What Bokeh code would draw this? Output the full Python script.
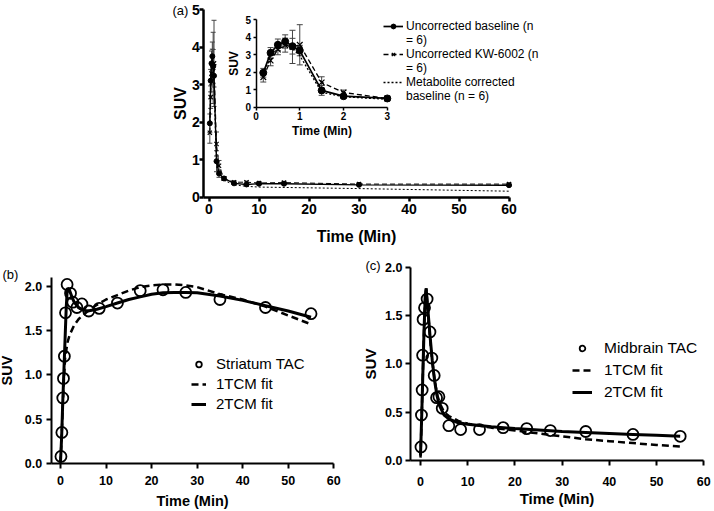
from bokeh.plotting import figure
from bokeh.models import (Range1d, LinearAxis, FixedTicker, Whisker, TeeHead, ColumnDataSource,
                          Legend, LegendItem, Label, NumeralTickFormatter)
from bokeh.embed import file_html
from bokeh.resources import INLINE

FONT = "Liberation Sans"

# ---------------- data: panel (a) ----------------
a_time = [1/6, 1/3, 0.5, 2/3, 5/6, 1.0, 1.5, 2.0, 3.0, 5.0, 7.5, 10.0, 15.0, 30.0, 60.0]
a_base = [1.97, 3.11, 3.57, 3.76, 3.49, 3.24, 0.96, 0.63, 0.50, 0.37, 0.34, 0.36, 0.36, 0.33, 0.32]
a_base_err = [0.25, 0.30, 0.33, 0.38, 0.45, 0.30, 0.28, 0.10, 0.05, 0.03, 0.03, 0.03, 0.03, 0.02, 0.02]
a_kw = [1.72, 2.67, 3.30, 3.55, 3.45, 3.57, 1.42, 0.84, 0.50, 0.40, 0.40, 0.38, 0.39, 0.35, 0.35]
a_kw_err = [0.28, 0.30, 0.30, 0.40, 0.95, 1.15, 0.32, 0.14, 0.05, 0.03, 0.03, 0.03, 0.03, 0.02, 0.02]
a_met = [1.90, 2.95, 3.45, 3.60, 3.35, 2.95, 0.85, 0.60, 0.45, 0.33, 0.29, 0.27, 0.26, 0.23, 0.16]
inset_n = 9  # points with time <= 3 min shown in the inset

# legend labels, one entry per printed line (first line carries the symbol)
a_labels = [["Uncorrected baseline (n", "= 6)"],
            ["Uncorrected KW-6002 (n", "= 6)"],
            ["Metabolite corrected", "baseline (n = 6)"]]

# ---------------- data: panel (b) striatum ----------------
b_time = [0.1, 0.3, 0.5, 0.65, 0.85, 1.1, 1.45, 2.2, 2.7, 3.6, 4.7, 6.2, 8.5, 12.5, 17.5, 22.5, 27.5, 35, 45, 55]
b_suv = [0.08, 0.35, 0.74, 0.96, 1.21, 1.70, 2.02, 1.92, 1.82, 1.76, 1.80, 1.72, 1.75, 1.81, 1.95, 1.96, 1.93, 1.85, 1.76, 1.69]
b_fit1_t = [0, 0.25, 0.5, 0.75, 1.0, 1.5, 2, 3, 4, 6, 8, 10, 12.5, 15, 17.5, 20, 22.5, 25, 27.5, 30, 35, 40, 45, 50, 55]
b_fit1 = [0.0, 0.3, 0.65, 0.95, 1.18, 1.36, 1.45, 1.56, 1.63, 1.72, 1.79, 1.85, 1.90, 1.95, 1.99, 2.01, 2.02, 2.02, 2.01, 1.99, 1.91, 1.85, 1.77, 1.67, 1.57]
b_fit2_t = [0, 0.25, 0.5, 0.75, 1.0, 1.25, 1.5, 2, 2.5, 3, 4, 5, 6, 8, 10, 12.5, 15, 17.5, 20, 22.5, 25, 27.5, 30, 35, 40, 45, 50, 55]
b_fit2 = [0.02, 0.30, 0.70, 1.05, 1.40, 1.75, 1.98, 1.95, 1.88, 1.82, 1.76, 1.73, 1.72, 1.74, 1.77, 1.81, 1.85, 1.88, 1.91, 1.925, 1.93, 1.93, 1.925, 1.89, 1.84, 1.78, 1.72, 1.65]
b_labels = ["Striatum TAC", "1TCM fit", "2TCM fit"]

# ---------------- data: panel (c) midbrain ----------------
c_time = [0.1, 0.2, 0.35, 0.45, 0.55, 0.85, 1.4, 2.0, 2.4, 2.9, 3.4, 3.9, 4.6, 6.0, 8.5, 12.5, 17.5, 22.5, 27.5, 35, 45, 55]
c_suv = [0.14, 0.47, 0.73, 1.09, 1.46, 1.58, 1.67, 1.33, 1.06, 0.88, 0.65, 0.66, 0.54, 0.36, 0.32, 0.32, 0.34, 0.33, 0.31, 0.30, 0.27, 0.25]
c_fit_t = [0, 0.25, 0.5, 0.75, 1.0, 1.2, 1.5, 2, 2.5, 3, 3.5, 4, 5, 6, 8, 10, 15, 20, 25, 30, 35, 40, 45, 50, 55]
c_fit1 = [0.03, 0.45, 0.9, 1.35, 1.70, 1.78, 1.60, 1.28, 1.02, 0.83, 0.69, 0.60, 0.50, 0.46, 0.41, 0.38, 0.34, 0.31, 0.28, 0.25, 0.22, 0.20, 0.18, 0.16, 0.145]
c_fit2 = [0.05, 0.45, 0.9, 1.35, 1.70, 1.78, 1.60, 1.30, 1.03, 0.82, 0.67, 0.57, 0.47, 0.43, 0.39, 0.375, 0.35, 0.33, 0.315, 0.30, 0.29, 0.28, 0.27, 0.26, 0.25]
c_labels = ["Midbrain TAC", "1TCM fit", "2TCM fit"]

# ---------------- canvas (page pixels are the base coordinate system) ----------------
W, H = 714, 511
PX0, PX1 = 0, W
PY0, PY1 = H, 0

p = figure(width=W, height=H, output_backend="svg", toolbar_location=None,
           x_range=Range1d(PX0, PX1), y_range=Range1d(PY0, PY1),
           x_axis_type=None, y_axis_type=None, min_border=0,
           outline_line_color=None, background_fill_color="white", border_fill_color="white")


def map_range(d0, p0, d1, p1, lo, hi):
    s = (d1 - d0) / (p1 - p0)
    return Range1d(start=d0 + (lo - p0) * s, end=d0 + (hi - p0) * s)


p.extra_x_ranges = {
    "a": map_range(0, 208.5, 60, 508.5, PX0, PX1),
    "i": map_range(0, 255.5, 3, 386.8, PX0, PX1),
    "b": map_range(0, 60.0, 60, 333.3, PX0, PX1),
    "c": map_range(0, 420.0, 60, 703.3, PX0, PX1),
}
p.extra_y_ranges = {
    "a": map_range(0, 196.7, 5, 9.3, PY0, PY1),
    "i": map_range(0, 106.7, 5, 19.3, PY0, PY1),
    "b": map_range(0, 463.0, 2, 285.7, PY0, PY1),
    "c": map_range(0, 460.0, 2, 266.7, PY0, PY1),
}


def axes(name, xb, yb, xt, yt, xlabel, ylabel, lw, tick_len, tick_fs, lab_fs,
         xstd, ystd, xlstd, ylstd, yfmt=None):
    common = dict(x_range_name=name, y_range_name=name, axis_line_width=lw,
                  major_tick_line_width=lw, major_tick_out=tick_len, major_tick_in=0,
                  minor_tick_out=0, minor_tick_in=0,
                  major_label_text_font=FONT, major_label_text_font_style="bold",
                  major_label_text_font_size=tick_fs,
                  axis_label_text_font=FONT, axis_label_text_font_style="bold",
                  axis_label_text_font_size=lab_fs,
                  axis_line_color="black", major_tick_line_color="black",
                  major_label_text_color="black", axis_label_text_color="black")
    xa = LinearAxis(fixed_location=yb[0], bounds=xb, ticker=FixedTicker(ticks=xt),
                    axis_label=xlabel, major_label_standoff=xstd,
                    axis_label_standoff=xlstd, **common)
    ya = LinearAxis(fixed_location=xb[0], bounds=yb, ticker=FixedTicker(ticks=yt),
                    axis_label=ylabel, major_label_standoff=ystd,
                    axis_label_standoff=ylstd, **common)
    if yfmt:
        ya.formatter = NumeralTickFormatter(format=yfmt)
    p.add_layout(xa, "below")
    p.add_layout(ya, "left")


t60 = [0, 10, 20, 30, 40, 50, 60]
axes("a", (-1.05, 60), (0, 5), t60, [0, 1, 2, 3, 4, 5], "Time (Min)", "SUV",
     2.5, 4, "14px", "16px", 3, 0, 10, 0)
axes("i", (0, 3), (0, 5), [0, 1, 2, 3], [0, 1, 2, 3, 4, 5], "Time (Min)", "SUV",
     1.5, 3, "10px", "12px", 2, 2, 0, 2)
axes("b", (-2.04, 60), (0, 2.1), t60, [0, 0.5, 1.0, 1.5, 2.0], "Time (Min)", "SUV",
     2, 5, "12.5px", "14.5px", 7, 4, 5, 7, "0.0")
axes("c", (-2.12, 60), (0, 2.0), t60, [0, 0.5, 1.0, 1.5, 2.0], "Time (Min)", "SUV",
     2, 5, "12.5px", "15px", 11, 3, 1, 3, "0.0")

# ---------------- panel (a) main + inset ----------------
def src_a(n):
    return ColumnDataSource(dict(
        t=a_time[:n], base=a_base[:n], kw=a_kw[:n], met=a_met[:n],
        blo=[v - e for v, e in zip(a_base[:n], a_base_err[:n])],
        bhi=[v + e for v, e in zip(a_base[:n], a_base_err[:n])],
        klo=[v - e for v, e in zip(a_kw[:n], a_kw_err[:n])],
        khi=[v + e for v, e in zip(a_kw[:n], a_kw_err[:n])],
    ))


def draw_a(name, src, lw, msize, xsize, head):
    rk = dict(x_range_name=name, y_range_name=name, source=src)
    l_met = p.line("t", "met", line_color="black", line_width=lw, line_dash="2 2", **rk)
    for lo, hi in (("blo", "bhi"), ("klo", "khi")):
        w = Whisker(base="t", lower=lo, upper=hi, source=src, x_range_name=name, y_range_name=name,
                    line_color="#444444", line_width=1,
                    upper_head=TeeHead(size=head, line_color="#444444", line_width=1),
                    lower_head=TeeHead(size=head, line_color="#444444", line_width=1))
        p.add_layout(w)
    l_kw = p.line("t", "kw", line_color="black", line_width=lw, line_dash="5 3", **rk)
    l_b = p.line("t", "base", line_color="black", line_width=lw + 0.4, **rk)
    s_b = p.scatter("t", "base", marker="circle", size=msize, fill_color="black",
                    line_color="black", **rk)
    s_k = p.scatter("t", "kw", marker="x", size=xsize, line_color="black", line_width=1.2, **rk)
    return l_b, s_b, l_kw, s_k, l_met


draw_a("a", src_a(len(a_time)), 1.0, 5, 6, 5)
ib, ibs, ik, iks, im = draw_a("i", src_a(inset_n), 1.3, 7, 8, 6)

a_items = []
for lines, rends in zip(a_labels, ([ib, ibs], [ik, iks], [im])):
    a_items.append(LegendItem(label=lines[0], renderers=rends))
    a_items.append(LegendItem(label=lines[1], renderers=[]))

leg_style = dict(label_text_font=FONT, label_text_color="black", padding=0, margin=0,
                 border_line_alpha=0, background_fill_alpha=0)

leg_a = Legend(items=a_items, location=(383, 408), label_text_font_size="12px",
               glyph_width=20, glyph_height=12, label_height=14,
               label_standoff=3, spacing=0, **leg_style)
p.add_layout(leg_a)

# ---------------- panel (b) ----------------
rb = dict(x_range_name="b", y_range_name="b")
b1 = p.line(b_fit1_t, b_fit1, line_color="black", line_width=2.5, line_dash="7 4", **rb)
b2 = p.line(b_fit2_t, b_fit2, line_color="black", line_width=3, **rb)
bs = p.scatter(b_time, b_suv, marker="circle", size=11, fill_color=None,
               line_color="black", line_width=1.8, **rb)
leg_b = Legend(items=[LegendItem(label=b_labels[0], renderers=[bs]),
                      LegendItem(label=b_labels[1], renderers=[b1]),
                      LegendItem(label=b_labels[2], renderers=[b2])],
               location=(191, 98), label_text_font_size="15px",
               glyph_width=15, glyph_height=14, label_standoff=10, spacing=1,
               label_height=19, **leg_style)
p.add_layout(leg_b)

# ---------------- panel (c) ----------------
rc = dict(x_range_name="c", y_range_name="c")
c1 = p.line(c_fit_t, c_fit1, line_color="black", line_width=2.5, line_dash="7 4", **rc)
c2 = p.line(c_fit_t, c_fit2, line_color="black", line_width=3, **rc)
cs = p.scatter(c_time, c_suv, marker="circle", size=11, fill_color=None,
               line_color="black", line_width=1.8, **rc)
leg_c = Legend(items=[LegendItem(label=c_labels[0], renderers=[cs]),
                      LegendItem(label=c_labels[1], renderers=[c1]),
                      LegendItem(label=c_labels[2], renderers=[c2])],
               location=(572, 109), label_text_font_size="15.5px",
               glyph_width=20, glyph_height=14, label_standoff=12, spacing=2,
               label_height=20, **leg_style)
p.add_layout(leg_c)

# ---------------- panel tags ----------------
for txt, x, y in (("(a)", 172, 10), ("(b)", 2, 274), ("(c)", 365, 265)):
    p.add_layout(Label(x=x, y=y, text=txt, text_font=FONT, text_font_size="13px",
                       text_baseline="middle", text_align="left", text_color="black"))

open("out.html", "w").write(file_html(p, INLINE))
